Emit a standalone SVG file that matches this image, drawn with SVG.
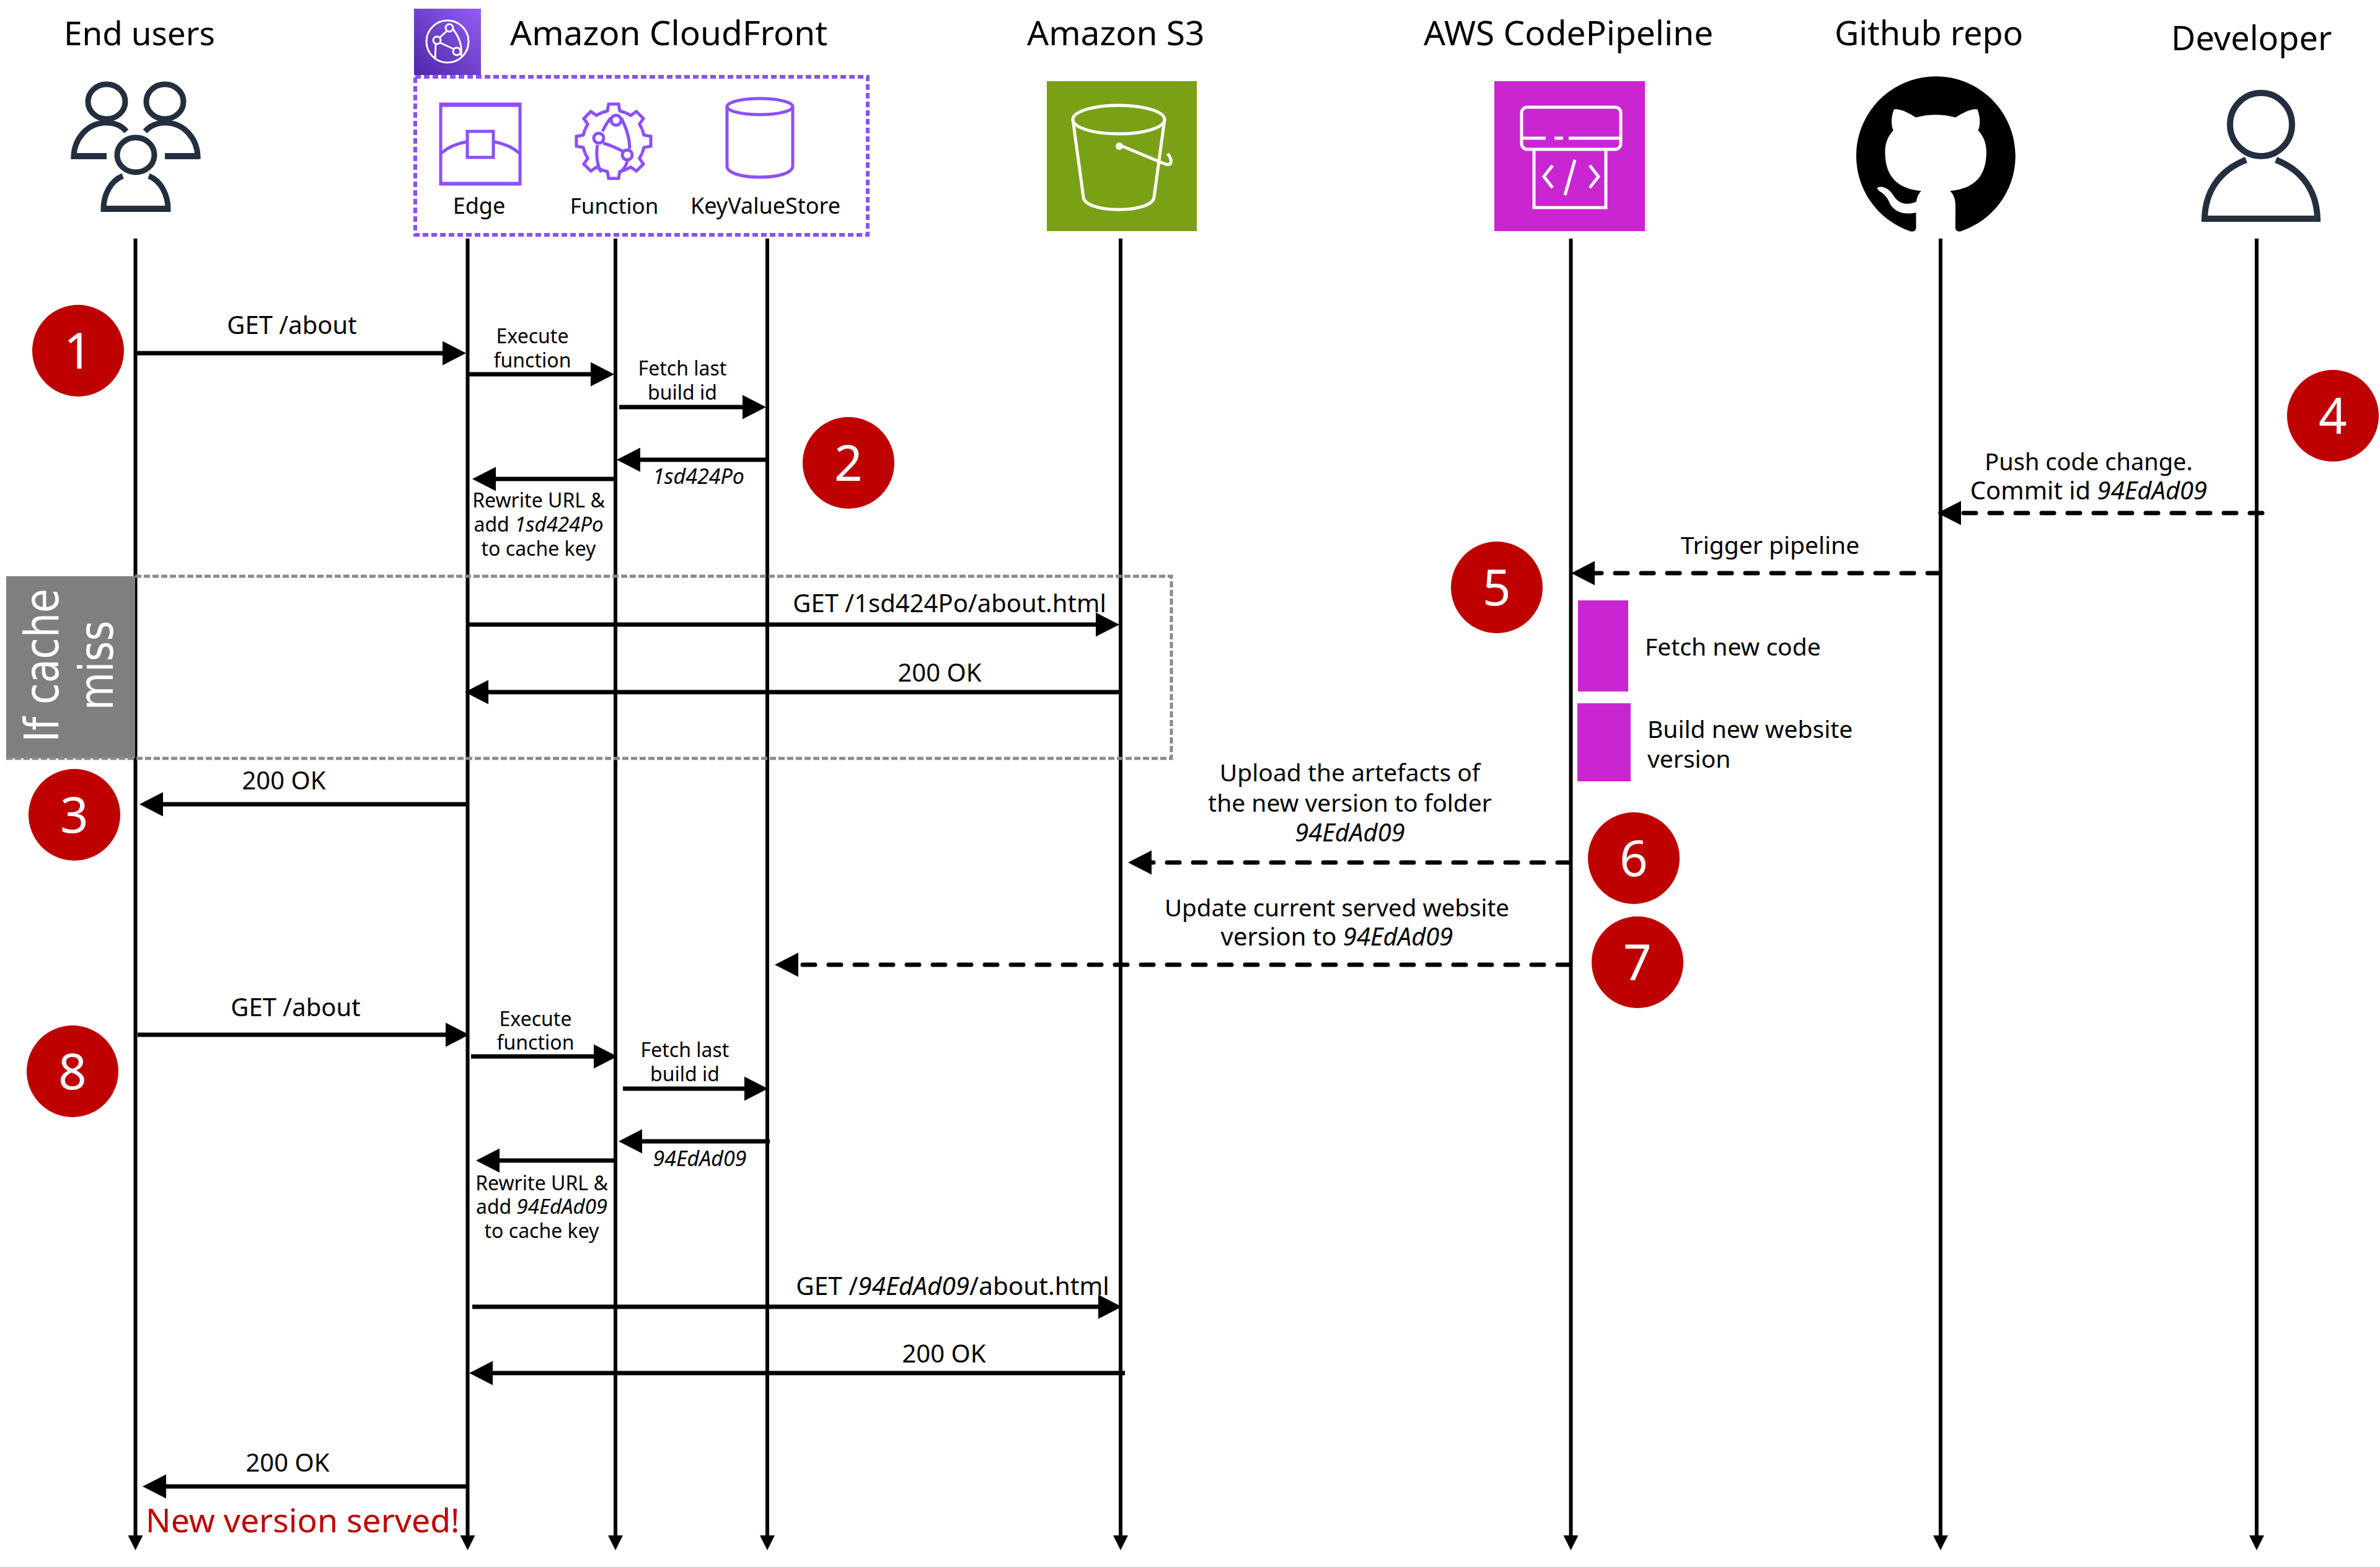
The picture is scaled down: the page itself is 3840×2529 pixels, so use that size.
<svg xmlns="http://www.w3.org/2000/svg" width="3840" height="2529" viewBox="0 0 3840 2529">
<style>
text{font-family:"Noto Sans","Open Sans","Liberation Sans",sans-serif;fill:#000}
.t{font-size:55px}
.m{font-size:39px;text-anchor:middle}
.s{font-size:32px;text-anchor:middle}
.l{font-size:39px}
.k{font-size:36px;text-anchor:middle}
.i{font-style:italic;font-size:34px}
.i2{font-style:italic}
.n{font-size:80px;fill:#fff;text-anchor:middle}
.life{stroke:#000;stroke-width:6;fill:none;marker-end:url(#small)}
.a{stroke:#000;stroke-width:7;fill:none;marker-end:url(#head)}
.d{stroke:#000;stroke-width:7;fill:none;marker-end:url(#head);stroke-dasharray:20 22;stroke-linecap:round}
.b{fill:#BF0000}
.ic{fill:none;stroke:#232F3E;stroke-width:9}
.p{fill:none;stroke:#8C4FFF;stroke-width:5}
.w{fill:none;stroke:#fff;stroke-width:5}
</style>
<defs>
<marker id="head" markerUnits="userSpaceOnUse" markerWidth="40" markerHeight="42" refX="20" refY="21" orient="auto"><path d="M0,1.5 L38,21 L0,40.5 z" fill="#000"/></marker>
<marker id="small" markerUnits="userSpaceOnUse" markerWidth="26" markerHeight="26" refX="4" refY="13" orient="auto"><path d="M0,1 L24,13 L0,25 z" fill="#000"/></marker>
<linearGradient id="cf" x1="0" y1="1" x2="1" y2="0"><stop offset="0" stop-color="#4D27A8"/><stop offset="1" stop-color="#945DF2"/></linearGradient>
<path id="tooth" d="M-19.1,-46.2 L-10,-49 L-8,-60 L8,-60 L10,-49 L19.1,-46.2"/>
</defs>
<rect width="3840" height="2529" fill="#fff"/>

<g id="lifelines">
<path class="life" d="M218.500,385V2482"/><path class="life" d="M754.500,385V2482"/><path class="life" d="M993,385V2482"/><path class="life" d="M1238,385V2482"/><path class="life" d="M1808,385V2482"/><path class="life" d="M2534.500,385V2482"/><path class="life" d="M3131,385V2482"/><path class="life" d="M3641,385V2482"/>
</g>

<g id="cache-miss">
<rect x="10" y="930" width="208" height="294" fill="#7F7F7F"/>
<path d="M218,930H1890V1224H10" fill="none" stroke="#8A8A8A" stroke-width="5" stroke-dasharray="10 4"/>
<text font-size="63" text-anchor="middle" style="fill:#fff;font-family:'DejaVu Sans',sans-serif" transform="translate(94 1074) rotate(-90) scale(1 1.22)">If cache</text>
<text font-size="63" text-anchor="middle" style="fill:#fff;font-family:'DejaVu Sans',sans-serif" transform="translate(182 1074) rotate(-90) scale(1 1.22)">miss</text>
</g>

<g id="end-users">
<text x="225" y="73" text-anchor="middle" font-size="53">End users</text>
<ellipse class="ic" cx="172" cy="164" rx="30" ry="28"/><ellipse class="ic" cx="266" cy="164" rx="30" ry="28"/>
<path class="ic" d="M204,212C196,203 186,198 172,198C140,198 120,225 119,252H172M234,212C242,203 252,198 266,198C298,198 318,225 319,252H266"/>
<path d="M115,252H172M266,252H322" stroke="#232F3E" stroke-width="10"/>
<ellipse class="ic" cx="219" cy="250" rx="30" ry="28"/>
<path class="ic" d="M198,284C178,292 167,315 167,337H271C271,315 260,292 240,284"/>
<path d="M163,337H275" stroke="#232F3E" stroke-width="10"/>
</g>

<g id="cloudfront">
<text class="t" x="823" y="73">Amazon CloudFront</text>
<rect x="668" y="14" width="108" height="107" fill="url(#cf)"/>
<circle cx="722" cy="67" r="34" fill="none" stroke="#fff" stroke-width="3"/>
<circle cx="725" cy="45" r="6" fill="none" stroke="#fff" stroke-width="3"/><circle cx="705" cy="65" r="6" fill="none" stroke="#fff" stroke-width="3"/><circle cx="737" cy="83" r="6" fill="none" stroke="#fff" stroke-width="3"/>
<path d="M710,60L721,50M710,69L732,79M703,71L702,96M730,46C740,58 746,72 744,90" fill="none" stroke="#fff" stroke-width="3"/>
<rect x="670" y="124" width="730" height="255" fill="none" stroke="#8C4FFF" stroke-width="6" stroke-dasharray="9 5"/>
<g id="edge">
<rect x="711" y="168" width="128" height="129" class="p"/><path d="M709,170H841M709,296H841" class="p" stroke-width="6"/>
<rect x="754" y="212" width="42" height="42" class="p" stroke-width="6"/>
<path d="M711,248C722,238 735,232 752,229M839,248C828,238 815,232 798,229" class="p" stroke-width="6"/>
<text class="k" x="773" y="345">Edge</text>
</g>
<g id="function">
<g class="p"><use href="#tooth" transform="translate(990 228)"/><use href="#tooth" transform="translate(990 228) rotate(45)"/><use href="#tooth" transform="translate(990 228) rotate(90)"/><use href="#tooth" transform="translate(990 228) rotate(135)"/><use href="#tooth" transform="translate(990 228) rotate(180)"/><use href="#tooth" transform="translate(990 228) rotate(225)"/><use href="#tooth" transform="translate(990 228) rotate(270)"/><use href="#tooth" transform="translate(990 228) rotate(315)"/></g>
<circle class="p" cx="994" cy="194" r="8"/><circle class="p" cx="966" cy="223" r="8"/><circle class="p" cx="1012" cy="250" r="8"/>
<path class="p" d="M972,212C976,204 980,196 986,190M973,231C986,234 998,241 1005,244M1002,190C1010,205 1016,222 1016,240M964,234C961,250 964,268 970,278M1012,260C1010,268 1006,274 1000,278"/>
<text class="k" x="991" y="345" style="font-size:35px">Function</text>
</g>
<g id="kvs">
<ellipse class="p" cx="1226" cy="172" rx="53" ry="13"/>
<path class="p" d="M1173,172V268C1173,292 1279,292 1279,268V172"/>
<text class="k" x="1235" y="345">KeyValueStore</text>
</g>
</g>

<g id="s3">
<text class="t" x="1657" y="73">Amazon S3</text>
<rect x="1689" y="131" width="242" height="242" fill="#7AA116"/>
<ellipse class="w" cx="1805" cy="193" rx="74" ry="23" stroke-width="6"/>
<path class="w" d="M1731,193L1748,318C1750,345 1860,345 1862,318L1879,193"/>
<path class="w" d="M1806,234L1878,264C1892,270 1892,258 1884,248"/>
<circle cx="1806" cy="236" r="6" fill="#fff"/>
</g>

<g id="codepipeline">
<text class="t" x="2297" y="73">AWS CodePipeline</text>
<rect x="2411" y="131" width="243" height="242" fill="#C925D1"/>
<rect class="w" x="2455" y="173" width="160" height="68" rx="9"/>
<path class="w" d="M2455,223H2494M2508,223H2522M2531,223H2615"/>
<path class="w" d="M2475,243V335H2591V243"/>
<path class="w" d="M2505,267L2491,285L2505,303M2565,267L2579,285L2565,303M2541,258L2525,315" stroke-width="4"/>
</g>

<g id="github">
<text x="2960" y="73" font-size="54">Github repo</text>
<path transform="translate(2995 120) scale(10.7)" fill="#000" d="M12 .297c-6.630 0-12 5.373-12 12 0 5.303 3.438 9.800 8.205 11.385.6.113.82-.258.82-.625 0-.31-.01-1.130-.015-2.220-3.338.724-4.042-1.610-4.042-1.610C4.422 18.070 3.633 17.700 3.633 17.700c-1.087-.744.084-.729.084-.729 1.205.084 1.838 1.236 1.838 1.236 1.070 1.835 2.809 1.305 3.495.998.108-.776.417-1.305.76-1.605-2.665-.3-5.466-1.332-5.466-5.930 0-1.310.465-2.380 1.235-3.220-.135-.303-.54-1.523.105-3.176 0 0 1.005-.322 3.300 1.230.96-.267 1.980-.399 3-.405 1.020.006 2.040.138 3 .405 2.280-1.552 3.285-1.230 3.285-1.230.645 1.653.24 2.873.12 3.176.765.84 1.230 1.910 1.230 3.220 0 4.610-2.805 5.625-5.475 5.920.42.36.81 1.096.81 2.220 0 1.606-.015 2.896-.015 3.286 0 .315.21.69.825.57C20.565 22.092 24 17.592 24 12.297c0-6.627-5.373-12-12-12"/>
</g>

<g id="developer">
<text x="3503" y="81" font-size="54">Developer</text>
<ellipse cx="3648" cy="201" rx="50" ry="51" fill="none" stroke="#232F3E" stroke-width="10"/>
<path d="M3624,258C3580,275 3558,310 3557,353H3739C3738,310 3716,275 3672,258" fill="none" stroke="#232F3E" stroke-width="10"/>
<path d="M3553,353H3743" stroke="#232F3E" stroke-width="10"/>
</g>

<g id="connectors">
<path class="a" d="M219,570H734"/>
<path class="a" d="M757,604H973"/>
<path class="a" d="M999,657H1218"/>
<path class="a" d="M1237,742H1013"/>
<path class="a" d="M990,773H780"/>
<path class="a" d="M755,1008H1788"/>
<path class="a" d="M1808,1117H768"/>
<path class="a" d="M755,1298H243"/>
<path class="d" d="M3650,828H3144"/>
<path class="d" d="M3130,925H2553"/>
<path class="d" d="M2533,1392H1838"/>
<path class="d" d="M2533,1557H1268"/>
<path class="a" d="M222,1670H739"/>
<path class="a" d="M760,1705H978"/>
<path class="a" d="M1005,1757H1221"/>
<path class="a" d="M1242,1842H1016"/>
<path class="a" d="M992,1873H786"/>
<path class="a" d="M762,2109H1792"/>
<path class="a" d="M1815,2216H775"/>
<path class="a" d="M755,2399H248"/>
</g>

<g id="activities">
<rect x="2546" y="969" width="81" height="147" fill="#C925D1"/>
<rect x="2545" y="1135" width="86" height="126" fill="#C925D1"/>
</g>

<g id="labels">
<text class="m" x="471" y="539" style="font-size:40px">GET /about</text>
<text class="s" x="859" y="554">Execute</text><text class="s" x="859" y="593">function</text>
<text class="s" x="1101" y="606">Fetch last</text><text class="s" x="1101" y="645">build id</text>
<text class="s i" x="1127" y="781">1sd424Po</text>
<text class="s" x="869" y="819">Rewrite URL &amp;</text><text class="s" x="869" y="858">add <tspan class="i2" style="font-size:33px">1sd424Po</tspan></text><text class="s" x="869" y="897">to cache key</text>
<text class="m" x="1532" y="988" style="font-size:40px">GET /1sd424Po/about.html</text>
<text class="m" x="1516" y="1100" style="font-size:40px">200 OK</text>
<text class="m" x="458" y="1274" style="font-size:40px">200 OK</text>
<text class="m" x="3370" y="759" style="font-size:38px">Push code change.</text>
<text class="m" x="3370" y="806" style="font-size:40px">Commit id <tspan class="i2">94EdAd09</tspan></text>
<text class="m" x="2856" y="894">Trigger pipeline</text>
<text class="l" x="2654" y="1058">Fetch new code</text>
<text class="l" x="2658" y="1191">Build new website</text><text class="l" x="2658" y="1239">version</text>
<text class="m" x="2178" y="1261">Upload the artefacts of</text><text class="m" x="2178" y="1310">the new version to folder</text><text class="m i2" x="2178" y="1358" style="font-size:40px">94EdAd09</text>
<text class="m" x="2157" y="1479" style="font-size:38.500px">Update current served website</text><text class="m" x="2157" y="1526" style="font-size:40px">version to <tspan class="i2">94EdAd09</tspan></text>
<text class="m" x="477" y="1640" style="font-size:40px">GET /about</text>
<text class="s" x="864" y="1656">Execute</text><text class="s" x="864" y="1694">function</text>
<text class="s" x="1105" y="1706">Fetch last</text><text class="s" x="1105" y="1745">build id</text>
<text class="s i" x="1129" y="1882">94EdAd09</text>
<text class="s" x="874" y="1921">Rewrite URL &amp;</text><text class="s" x="874" y="1959">add <tspan class="i2" style="font-size:33px">94EdAd09</tspan></text><text class="s" x="874" y="1998">to cache key</text>
<text class="m" x="1537" y="2090" style="font-size:40.500px">GET /<tspan class="i2">94EdAd09</tspan>/about.html</text>
<text class="m" x="1523" y="2199" style="font-size:40px">200 OK</text>
<text class="m" x="464" y="2375" style="font-size:40px">200 OK</text>
<text x="235" y="2473" font-size="53.500" style="fill:#BF0000">New version served!</text>
</g>

<g id="badges">
<g id="badge-1"><circle class="b" cx="126" cy="566" r="74"/><text class="n" x="126" y="595">1</text></g>
<g id="badge-2"><circle class="b" cx="1369" cy="747" r="74"/><text class="n" x="1369" y="776">2</text></g>
<g id="badge-3"><circle class="b" cx="120" cy="1315" r="74"/><text class="n" x="120" y="1344">3</text></g>
<g id="badge-4"><circle class="b" cx="3764" cy="671" r="74"/><text class="n" x="3764" y="700">4</text></g>
<g id="badge-5"><circle class="b" cx="2415" cy="948" r="74"/><text class="n" x="2415" y="977">5</text></g>
<g id="badge-6"><circle class="b" cx="2636" cy="1385" r="74"/><text class="n" x="2636" y="1414">6</text></g>
<g id="badge-7"><circle class="b" cx="2642" cy="1553" r="74"/><text class="n" x="2642" y="1582">7</text></g>
<g id="badge-8"><circle class="b" cx="117" cy="1729" r="74"/><text class="n" x="117" y="1758">8</text></g>
</g>
</svg>
